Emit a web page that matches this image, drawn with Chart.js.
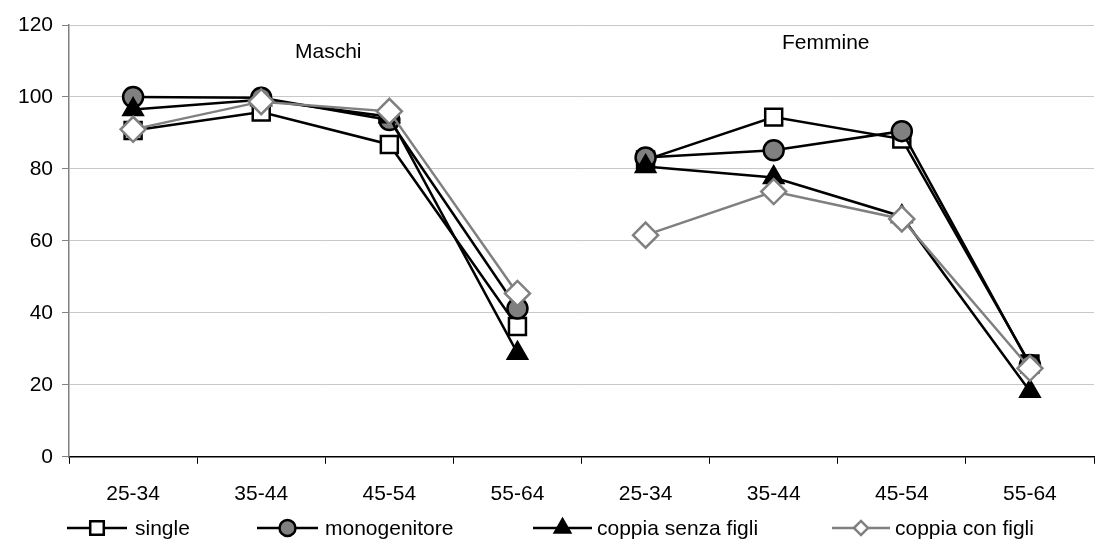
<!DOCTYPE html>
<html>
<head>
<meta charset="utf-8">
<script src="https://cdn.jsdelivr.net/npm/chart.js@4.4.1/dist/chart.umd.min.js"></script>
<style>
html,body{margin:0;padding:0;background:#fff;}
#wrap{width:1109px;height:539px;position:relative;}
</style>
</head>
<body>
<div id="wrap"><canvas id="c" width="1109" height="539"></canvas></div>
<script>
const categories = ['25-34','35-44','45-54','55-64','25-34','35-44','45-54','55-64'];
const groupTitles = ['Maschi','Femmine'];
const seriesNames = ['single','monogenitore','coppia senza figli','coppia con figli'];
const single = [90.7, 95.8, 86.8, 36.2, 82.5, 94.4, 88.3, 25.8];
const monogenitore = [100, 99.8, 93.6, 41.2, 83.2, 85.2, 90.5, 25.5];
const coppiaSenzaFigli = [96.5, 99.2, 94.5, 28.8, 80.7, 77.6, 66.8, 18.2];
const coppiaConFigli = [91.0, 98.7, 96.0, 45.4, 61.6, 73.7, 66.1, 24.6];
const yTicks = [0, 20, 40, 60, 80, 100, 120];

const FONT = "'Liberation Sans', Arial, sans-serif";
const FS = 21;
const breakSeg = (col) => ({
  borderColor: ctx => ctx.p0DataIndex === 3 ? 'rgba(0,0,0,0)' : col
});

const styles = [
  {color:'#000', point:'rect', r:12, fill:'#fff', border:'#000'},
  {color:'#000', point:'circle', r:10, fill:'#808080', border:'#000'},
  {color:'#000', point:'triangle', r:11, fill:'#000', border:'#000'},
  {color:'#808080', point:'rectRot', r:12.5, fill:'#fff', border:'#808080'}
];
const values = [single, monogenitore, coppiaSenzaFigli, coppiaConFigli];

const datasets = seriesNames.map((name, i) => ({
  label: name,
  data: values[i],
  borderColor: styles[i].color,
  borderWidth: 2.5,
  pointStyle: styles[i].point,
  pointRadius: styles[i].r,
  pointHoverRadius: styles[i].r,
  pointBackgroundColor: styles[i].fill,
  pointBorderColor: styles[i].border,
  pointBorderWidth: 2.5,
  tension: 0,
  order: 4 - i,
  segment: breakSeg(styles[i].color)
}));

const annotations = {
  id: 'annotations',
  afterDraw(chart) {
    const ctx = chart.ctx;
    ctx.save();
    ctx.fillStyle = '#000';
    ctx.font = FS + 'px ' + FONT;
    ctx.textBaseline = 'middle';
    ctx.textAlign = 'left';
    ctx.fillText(groupTitles[0], 295, 52);
    ctx.fillText(groupTitles[1], 782, 43);

    // legend
    const ly = 528;
    const items = [
      {x0:67, x1:127, tx:135},
      {x0:257, x1:318, tx:325},
      {x0:533, x1:592, tx:597},
      {x0:832, x1:890, tx:895}
    ];
    items.forEach((it, i) => {
      const s = styles[i];
      ctx.strokeStyle = s.color;
      ctx.lineWidth = 2.5;
      ctx.beginPath();
      ctx.moveTo(it.x0, ly);
      ctx.lineTo(it.x1, ly);
      ctx.stroke();
      ctx.fillStyle = s.fill;
      ctx.strokeStyle = s.border;
      ctx.lineWidth = 2.5;
      ctx.beginPath();
      const cx = (it.x0 + it.x1) / 2, r = s.r * 0.8;
      if (s.point === 'rect') {
        const h = r * Math.SQRT1_2;
        ctx.rect(cx - h, ly - h, 2*h, 2*h);
      } else if (s.point === 'circle') {
        ctx.arc(cx, ly, r, 0, Math.PI*2);
      } else if (s.point === 'triangle') {
        ctx.moveTo(cx, ly - r);
        ctx.lineTo(cx + r*0.866, ly + r*0.5);
        ctx.lineTo(cx - r*0.866, ly + r*0.5);
        ctx.closePath();
      } else {
        const h = r * Math.SQRT1_2;
        ctx.moveTo(cx - h, ly); ctx.lineTo(cx, ly - h); ctx.lineTo(cx + h, ly); ctx.lineTo(cx, ly + h); ctx.closePath();
      }
      ctx.fill();
      ctx.stroke();
      ctx.fillStyle = '#000';
      ctx.fillText(seriesNames[i], it.tx, ly + 1);
    });
    ctx.restore();
  }
};

new Chart(document.getElementById('c'), {
  type: 'line',
  data: { labels: categories, datasets },
  options: {
    responsive: false,
    animation: false,
    devicePixelRatio: 1,
    layout: { padding: { left: 9, right: 3, top: 25, bottom: 14 } },
    plugins: { legend: { display: false }, tooltip: { enabled: false } },
    scales: {
      x: {
        offset: true,
        grid: { offset: true, drawOnChartArea: false, tickLength: 7, color: '#000', tickColor: '#000', lineWidth: 1 },
        border: { color: '#000', width: 1.5 },
        ticks: { color: '#000', font: { family: FONT, size: FS }, padding: 18, maxRotation: 0, autoSkip: false }
      },
      y: {
        min: 0, max: 120,
        afterBuildTicks: (axis) => { axis.ticks = yTicks.map(v => ({ value: v })); },
        grid: { color: '#c8c8c8', tickColor: '#808080', tickLength: 7, lineWidth: 1 },
        border: { color: '#808080', width: 1.5 },
        ticks: { color: '#000', font: { family: FONT, size: FS }, padding: 9 }
      }
    }
  },
  plugins: [annotations]
});
</script>
</body>
</html>
